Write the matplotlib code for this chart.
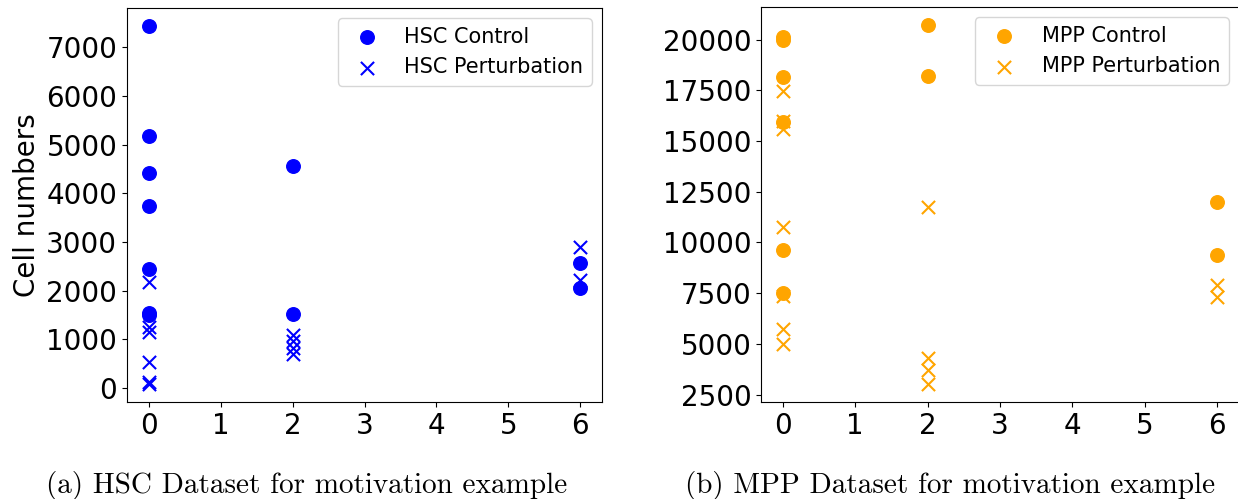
import matplotlib
matplotlib.use('Agg')
import matplotlib.pyplot as plt
from matplotlib.ticker import MultipleLocator

# HSC dataset
hsc_ctrl_x = [0, 0, 0, 0, 0, 0, 0, 2, 2, 6, 6]
hsc_ctrl_y = [7440, 5180, 4410, 3730, 2440, 1550, 1500, 4570, 1520, 2570, 2060]
hsc_pert_x = [0, 0, 0, 0, 0, 0, 2, 2, 2, 2, 6, 6]
hsc_pert_y = [2170, 1260, 1160, 530, 130, 80, 1090, 960, 830, 700, 2890, 2210]

# MPP dataset
mpp_ctrl_x = [0, 0, 0, 0, 0, 0, 2, 2, 6, 6]
mpp_ctrl_y = [20150, 20000, 18130, 15960, 9610, 7530, 20720, 18210, 12000, 9400]
mpp_pert_x = [0, 0, 0, 0, 0, 0, 0, 2, 2, 2, 2, 6, 6]
mpp_pert_y = [17470, 16000, 15610, 10760, 7360, 5710, 4970,
              11750, 4280, 3700, 3020, 7890, 7310]

xticks = [0, 1, 2, 3, 4, 5, 6]

fig = plt.figure(figsize=(12.38, 4.99), dpi=100)
ax1 = fig.add_axes([127 / 1238, 97 / 499, 475 / 1238, 394 / 499])
ax2 = fig.add_axes([761 / 1238, 97 / 499, 478 / 1238, 395 / 499])

ax1.scatter(hsc_ctrl_x, hsc_ctrl_y, color='blue', marker='o', s=95, label='HSC Control')
ax1.scatter(hsc_pert_x, hsc_pert_y, color='blue', marker='x', s=90, linewidths=1.5,
            label='HSC Perturbation')
ax1.set_ylabel('Cell numbers', fontsize=20)
ax1.yaxis.set_major_locator(MultipleLocator(1000))

ax2.scatter(mpp_ctrl_x, mpp_ctrl_y, color='orange', marker='o', s=95, label='MPP Control')
ax2.scatter(mpp_pert_x, mpp_pert_y, color='orange', marker='x', s=90, linewidths=1.5,
            label='MPP Perturbation')
ax2.yaxis.set_major_locator(MultipleLocator(2500))

for ax in (ax1, ax2):
    ax.set_xticks(xticks)
    ax.tick_params(labelsize=20)
    ax.legend(loc='upper right', fontsize=15)

fig.text(307 / 1238, 14 / 499, '(a) HSC Dataset for motivation example',
         family='cmr10', fontsize=21, ha='center', va='center')
fig.text(950 / 1238, 14 / 499, '(b) MPP Dataset for motivation example',
         family='cmr10', fontsize=21, ha='center', va='center')

plt.savefig('out.png', dpi=100)
